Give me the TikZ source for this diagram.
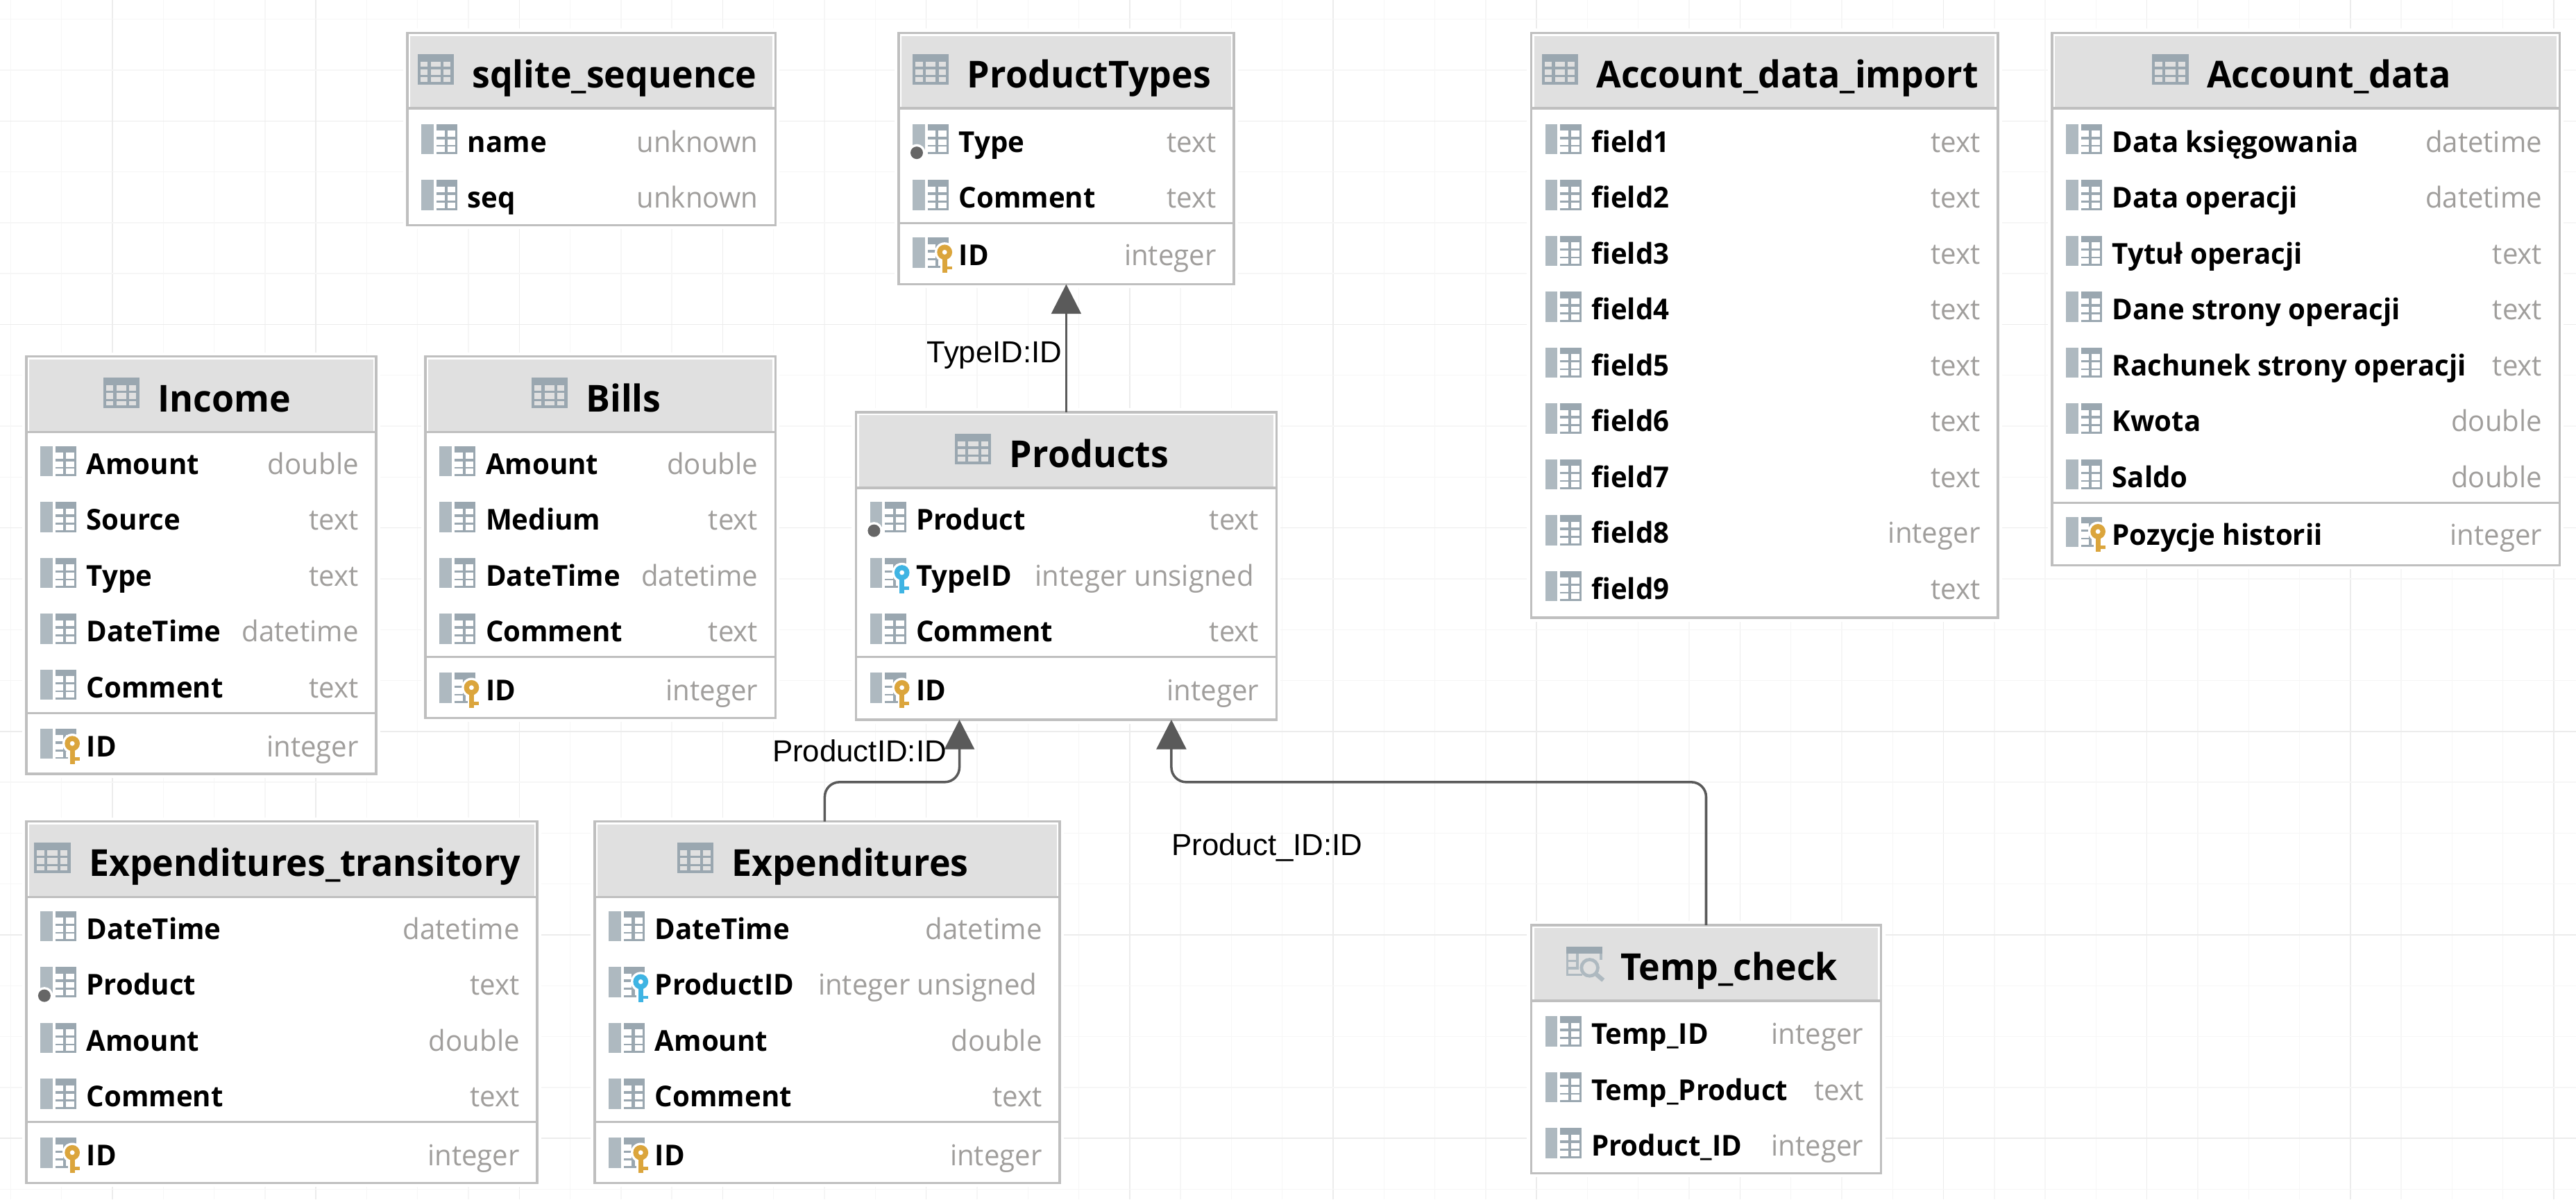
\documentclass[tikz,border=0pt]{standalone}
\usepackage{fontspec}
\setmainfont[FakeStretch=0.97]{Open Sans}
\newfontfamily\labelfont{Liberation Sans}
\usetikzlibrary{arrows.meta}
\definecolor{gridminor}{HTML}{F6F6F6}
\definecolor{gridmajor}{HTML}{ECECEC}
\definecolor{boxline}{HTML}{BFBFBF}
\definecolor{headfill}{HTML}{E0E0E0}
\definecolor{icondark}{HTML}{9AA7B0}
\definecolor{iconlight}{HTML}{AEB9C0}
\definecolor{typegrey}{HTML}{A09E9C}
\definecolor{linkgrey}{HTML}{5A5A5A}
\definecolor{dotgrey}{HTML}{666666}
\definecolor{pkey}{HTML}{DBA53C}
\definecolor{fkey}{HTML}{3FB4E3}
\tikzset{
  dbbox/.style={draw=boxline,line width=1.5pt,fill=white,rectangle,inner sep=0pt,outer sep=0pt,anchor=north west,preaction={draw=white,line width=5pt}},
  titletext/.style={font=\fontsize{22.6}{24}\selectfont\bfseries,text=black,inner sep=0pt,anchor=base},
  nametext/.style={font=\fontsize{17.5}{20}\selectfont\bfseries,text=black,inner sep=0pt,anchor=base west},
  typetext/.style={font=\fontsize{17.5}{20}\selectfont,text=typegrey,inner sep=0pt,anchor=base east},
  linktext/.style={font=\fontsize{18.5}{20}\selectfont\labelfont,text=black,inner sep=0pt,anchor=base west},
  link/.style={draw=linkgrey,line width=1.5pt,rounded corners=9pt,-{Triangle[width=18pt,length=18pt]}}
}
% #1 name, #2 left, #3 top, #4 width, #5 height, #6 title
\newcommand{\dbtable}[6]{
  \node[dbbox,minimum width=#4 pt,minimum height=#5 pt] (#1) at (#2,#3) {};
  \fill[headfill] ([shift={(1.8pt,-1.8pt)}]#1.north west) rectangle ([shift={(-1.8pt,-46pt)}]#1.north east);
  \draw[boxline,line width=1.5pt] ([yshift=-46pt]#1.north west) -- ([yshift=-46pt]#1.north east);
  \node[titletext,xshift=14pt,yshift=-33.5pt] (#1-title) at (#1.north) {#6};
}
\newcommand{\headicon}[1]{
  \begin{scope}[shift={([xshift=-33pt,yshift=-13pt]#1-title.west |- #1.north)}]
    \fill[icondark] (0,0) rectangle (22,18.5);
    \foreach \cx/\cw in {1.7/4.3,8/6,15.8/4.3}
      \foreach \cy/\ch in {4.5/3.2,9.2/3.5,14.1/2.8}
        \fill[headfill] (\cx,\cy) rectangle ++(\cw,\ch);
  \end{scope}
}
\newcommand{\viewicon}[1]{
  \begin{scope}[shift={([xshift=-33pt,yshift=-13pt]#1-title.west |- #1.north)}]
    \fill[icondark] (0,0) rectangle (22,4.2);
    \fill[iconlight] (0,4.2) rectangle (1.5,18);
    \fill[iconlight] (20.5,4.2) rectangle (22,8);
    \fill[iconlight] (6,4.2) rectangle (7.5,13);
    \foreach \ly in {8,12.4}
      \fill[iconlight] (0,\ly) rectangle (7.5,\ly+1.5);
    \fill[iconlight] (0,16.5) rectangle (10,18);
    \draw[iconlight,line width=2pt] (14.3,13) circle (5pt);
    \draw[iconlight,line width=2.6pt] (17.9,16.6) -- (22.6,20.6);
  \end{scope}
}
% #1 table, #2 row y
\newcommand{\fieldicon}[2]{
  \begin{scope}[shift={([xshift=8.5pt]#1.west |- 0,#2)},yshift=10.5pt]
    \fill[iconlight] (0,0) rectangle (7.5,18.4);
    \fill[icondark] (9.2,0) rectangle (22,18.4);
    \foreach \cx/\cw in {9.2/4.9,15.8/4.9}
      \foreach \cy/\ch in {4/3.7,9.2/3.5,13.8/3.4}
        \fill[white] (\cx,\cy) rectangle ++(\cw,\ch);
  \end{scope}
}
% #1 table, #2 row y, #3 key colour
\newcommand{\keyicon}[3]{
  \begin{scope}[shift={([xshift=8.5pt]#1.west |- 0,#2)}]
    \draw[white,line width=5pt] (19.5,-1.5) -- (19.5,10);
    \fill[white] (19.5,-1.5) circle (6pt);
    \fill[#3,even odd rule] (19.5,-1.5) circle (4.6pt) (19.5,-1.5) circle (1.5pt);
    \fill[#3] (18,2) rectangle (21,11);
    \fill[#3] (21,7) rectangle (24,9);
  \end{scope}
}
% #1 table, #2 row y
\newcommand{\linkdot}[2]{
  \fill[white] ([shift={(11pt,0pt)}]#1.west |- 0,#2) ++(0,7) circle (5.3pt);
  \fill[dotgrey] ([shift={(11pt,0pt)}]#1.west |- 0,#2) ++(0,7) circle (3.8pt);
}
% #1 table, #2 row y, #3 field, #4 type
\newcommand{\fieldrow}[4]{
  \fieldicon{#1}{#2}
  \node[nametext,xshift=36.5pt,yshift=-6.6pt] (#1-name-#2) at (#1.west |- 0,#2) {#3};
  \node[typetext,xshift=-10.5pt,yshift=-6.6pt] (#1-type-#2) at (#1.east |- 0,#2) {#4};
}
\newcommand{\dbsep}[2]{\draw[boxline,line width=1.3pt] (#1.west |- 0,#2) -- (#1.east |- 0,#2);}

\begin{document}
\begin{tikzpicture}[x=1pt,y=-1pt]
\useasboundingbox (0,0) rectangle (1568,730);
\fill[white] (0,0) rectangle (1568,730);
%grid
\foreach \k in {-2,...,48} {
  \pgfmathtruncatemacro{\m}{mod(\k+8,4)}
  \ifnum\m=0 \def\gc{gridmajor}\else\def\gc{gridminor}\fi
  \draw[\gc,line width=0.6pt] ({68.4+30.96*\k},0) -- ({68.4+30.96*\k},730);
}
\foreach \k in {0,...,23} {
  \pgfmathtruncatemacro{\m}{mod(\k+2,4)}
  \ifnum\m=0 \def\gc{gridmajor}\else\def\gc{gridminor}\fi
  \draw[\gc,line width=0.6pt] (0,{11.7+30.96*\k}) -- (1568,{11.7+30.96*\k});
}
%tables
\dbtable{sqlite}{248}{20}{224}{117}{sqlite\_sequence}
\headicon{sqlite}
\fieldrow{sqlite}{86}{name}{unknown}
\fieldrow{sqlite}{120}{seq}{unknown}

\dbtable{producttypes}{547}{20}{204}{153}{ProductTypes}
\headicon{producttypes}
\fieldrow{producttypes}{86}{Type}{text}
\fieldrow{producttypes}{120}{Comment}{text}
\dbsep{producttypes}{136}
\fieldrow{producttypes}{155}{ID}{integer}
\linkdot{producttypes}{86}
\keyicon{producttypes}{155}{pkey}

\dbtable{accountimport}{932}{20}{284}{356}{Account\_data\_import}
\headicon{accountimport}
\foreach \i/\ry/\ft in {1/86/text,2/120/text,3/154/text,4/188/text,5/222/text,6/256/text,7/290/text,8/324/integer,9/358/text} {
  \fieldrow{accountimport}{\ry}{field\i}{\ft}
}

\dbtable{accountdata}{1249}{20}{309}{324}{Account\_data}
\headicon{accountdata}
\fieldrow{accountdata}{86}{Data księgowania}{datetime}
\fieldrow{accountdata}{120}{Data operacji}{datetime}
\fieldrow{accountdata}{154}{Tytuł operacji}{text}
\fieldrow{accountdata}{188}{Dane strony operacji}{text}
\fieldrow{accountdata}{222}{Rachunek strony operacji}{text}
\fieldrow{accountdata}{256}{Kwota}{double}
\fieldrow{accountdata}{290}{Saldo}{double}
\dbsep{accountdata}{306}
\fieldrow{accountdata}{325}{Pozycje historii}{integer}
\keyicon{accountdata}{325}{pkey}

\dbtable{income}{16}{217}{213}{254}{Income}
\headicon{income}
\fieldrow{income}{282}{Amount}{double}
\fieldrow{income}{316}{Source}{text}
\fieldrow{income}{350}{Type}{text}
\fieldrow{income}{384}{DateTime}{datetime}
\fieldrow{income}{418}{Comment}{text}
\dbsep{income}{434}
\fieldrow{income}{454}{ID}{integer}
\keyicon{income}{454}{pkey}

\dbtable{bills}{259}{217}{213}{220}{Bills}
\headicon{bills}
\fieldrow{bills}{282}{Amount}{double}
\fieldrow{bills}{316}{Medium}{text}
\fieldrow{bills}{350}{DateTime}{datetime}
\fieldrow{bills}{384}{Comment}{text}
\dbsep{bills}{400}
\fieldrow{bills}{420}{ID}{integer}
\keyicon{bills}{420}{pkey}

\dbtable{products}{521}{251}{256}{187}{Products}
\headicon{products}
\fieldrow{products}{316}{Product}{text}
\fieldrow{products}{350}{TypeID}{integer unsigned\kern3pt}
\fieldrow{products}{384}{Comment}{text}
\dbsep{products}{400}
\fieldrow{products}{420}{ID}{integer}
\linkdot{products}{316}
\keyicon{products}{350}{fkey}
\keyicon{products}{420}{pkey}

\dbtable{transitory}{16}{500}{311}{220}{Expenditures\_transitory}
\headicon{transitory}
\fieldrow{transitory}{565}{DateTime}{datetime}
\fieldrow{transitory}{599}{Product}{text}
\fieldrow{transitory}{633}{Amount}{double}
\fieldrow{transitory}{667}{Comment}{text}
\dbsep{transitory}{683}
\fieldrow{transitory}{703}{ID}{integer}
\linkdot{transitory}{599}
\keyicon{transitory}{703}{pkey}

\dbtable{expenditures}{362}{500}{283}{220}{Expenditures}
\headicon{expenditures}
\fieldrow{expenditures}{565}{DateTime}{datetime}
\fieldrow{expenditures}{599}{ProductID}{integer unsigned\kern3pt}
\fieldrow{expenditures}{633}{Amount}{double}
\fieldrow{expenditures}{667}{Comment}{text}
\dbsep{expenditures}{683}
\fieldrow{expenditures}{703}{ID}{integer}
\keyicon{expenditures}{599}{fkey}
\keyicon{expenditures}{703}{pkey}

\dbtable{tempcheck}{932}{563}{213}{151}{Temp\_check}
\viewicon{tempcheck}
\fieldrow{tempcheck}{629}{Temp\_ID}{integer}
\fieldrow{tempcheck}{663}{Temp\_Product}{text}
\fieldrow{tempcheck}{697}{Product\_ID}{integer}
%edges
\coordinate (expout) at (502,500);
\coordinate (expin) at (584,438);
\coordinate (tempin) at (713,438);
\draw[link,rounded corners=0pt] (products.north) -- (producttypes.south);
\draw[link] (expout) |- (584,476) -- (expin);
\draw[link] (tempcheck.north) |- (713,476) -- (tempin);
%labels
\node[linktext] (typelabel) at (564,220.5) {TypeID:ID};
\node[linktext] (productlabel) at (470,463.5) {ProductID:ID};
\node[linktext] (templabel) at (713,520.5) {Product\_ID:ID};
\end{tikzpicture}
\end{document}
